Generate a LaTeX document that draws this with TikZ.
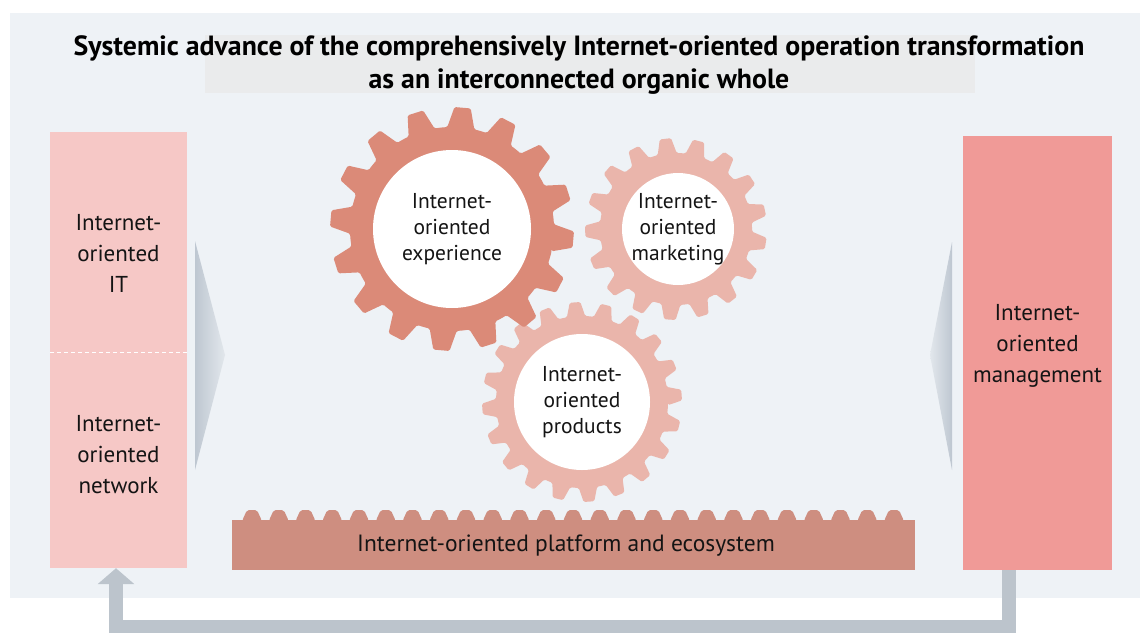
\documentclass[tikz,border=0pt]{standalone}
\usepackage{fontspec}
\setmainfont{PT Sans}
\usetikzlibrary{arrows.meta}

\definecolor{panelbg}{HTML}{EEF2F6}
\definecolor{titleband}{HTML}{EAEBEC}
\definecolor{itpink}{HTML}{F6C8C6}
\definecolor{mgmtpink}{HTML}{F09A97}
\definecolor{rackred}{HTML}{CE8E80}
\definecolor{gearbig}{HTML}{DB8A78}
\definecolor{gearlight}{HTML}{EAB5AB}
\definecolor{arrowgray}{HTML}{BCC4CC}
\definecolor{wedgedark}{HTML}{BEC7D1}
\definecolor{wedgelight}{HTML}{E2E7EC}
\definecolor{ink}{HTML}{141414}

% gear outline: center, teeth, root radius, tip radius, colour, phase
\newcommand\cogwheel[6]{%
  \begin{scope}[shift={#1}]
    \pgfmathsetmacro\cgstep{360/#2}
    \fill[#5, rounded corners=1.5pt] ({#6-0.34*\cgstep}:#3)
      \foreach \k in {1,...,#2}{
        -- ({#6+(\k-1)*\cgstep-0.17*\cgstep}:#4)
        -- ({#6+(\k-1)*\cgstep+0.17*\cgstep}:#4)
        -- ({#6+(\k-1)*\cgstep+0.34*\cgstep}:#3)
        arc[start angle={#6+(\k-1)*\cgstep+0.34*\cgstep},
            end angle={#6+\k*\cgstep-0.34*\cgstep}, radius=#3]
      } -- cycle;
  \end{scope}}

\begin{document}
\begin{tikzpicture}[x=1pt,y=1pt,
  boxtext/.style={font=\fontsize{23}{31}\selectfont, text=ink, align=center, inner sep=0pt},
  geartext/.style={font=\fontsize{21.5}{26}\selectfont, text=ink, align=center, inner sep=0pt},
  hub/.style={circle, fill=white, inner sep=0pt},
  sidebox/.style={rectangle, inner sep=0pt},
  feedback/.style={draw=arrowgray, line width=14pt, line join=miter,
    -{Triangle[width=36pt,length=16pt]}}]

\useasboundingbox (0,0) rectangle (1140,-632);
\clip (0,0) rectangle (1140,-632);

% background panel and title band
\fill[panelbg] (10,-13) rectangle (1140,-598);
\fill[titleband] (205,-35) rectangle (975,-93);
\node[font=\bfseries\fontsize{27.8}{33}\selectfont, text=black, align=center, inner sep=0pt]
  (title) at (579,-65)
  {Systemic advance of the comprehensively Internet-oriented operation transformation\\
   as an interconnected organic whole};

% left column: IT and network
\node[sidebox, fill=itpink, minimum width=137pt, minimum height=220pt] (itbox) at (118.5,-242) {};
\node[sidebox, fill=itpink, minimum width=137pt, minimum height=216pt] (netbox) at (118.5,-460) {};
\draw[white, dashed, line width=0.8pt, dash pattern=on 4pt off 3pt] (itbox.south west) -- (itbox.south east);
\node[boxtext] (ittext) at (118.5,-253) {Internet-\\oriented\\IT};
\node[boxtext] (nettext) at (118.5,-455) {Internet-\\oriented\\network};

% right column: management
\node[sidebox, fill=mgmtpink, minimum width=149pt, minimum height=434pt] (mgmt) at (1037.5,-353) {};
\node[boxtext] (mgmttext) at (1037.5,-346) {Internet-\\oriented\\management};

% wedges pointing towards the gears
\shade[left color=wedgedark, right color=wedgelight] (195,-241) -- (225,-355) -- (195,-470) -- cycle;
\shade[left color=wedgelight, right color=wedgedark] (952,-242) -- (930,-355) -- (952,-470) -- cycle;

% gears
\cogwheel{(582,-402)}{20}{86}{100}{gearlight}{4}
\cogwheel{(676,-229)}{17}{76}{91}{gearlight}{12}
\cogwheel{(452,-229)}{16}{102}{122}{gearbig}{-5}
\node[hub, minimum size=158pt] (exp) at (452,-229) {};
\node[hub, minimum size=112pt] (mkt) at (678,-229) {};
\node[hub, minimum size=136pt] (prod) at (582,-402) {};
\node[geartext] at (exp) {Internet-\\oriented\\experience};
\node[geartext] at (mkt) {Internet-\\oriented\\marketing};
\node[geartext] at (prod) {Internet-\\oriented\\products};

% toothed platform rack
\node[sidebox, fill=rackred, minimum width=683pt, minimum height=50pt] (rack) at (573.5,-545) {};
\foreach \t in {0,...,24}{
  \fill[rackred, rounded corners=2pt] ({252+26.75*\t-10},-521) -- ({252+26.75*\t-5},-510)
    -- ({252+26.75*\t+5},-510) -- ({252+26.75*\t+10},-521) -- cycle;
}
\node[font=\fontsize{23.5}{26}\selectfont, text=ink, inner sep=0pt] (racktext) at (566,-546)
  {Internet-oriented platform and ecosystem};

% feedback loop from management back to the left column
\coordinate (fbR) at (1009,-627);
\coordinate (fbL) at (116,-627);
\draw[feedback] (mgmt.south -| fbR) -- (fbR) -- (fbL) -- (netbox.south -| fbL);

\end{tikzpicture}
\end{document}
